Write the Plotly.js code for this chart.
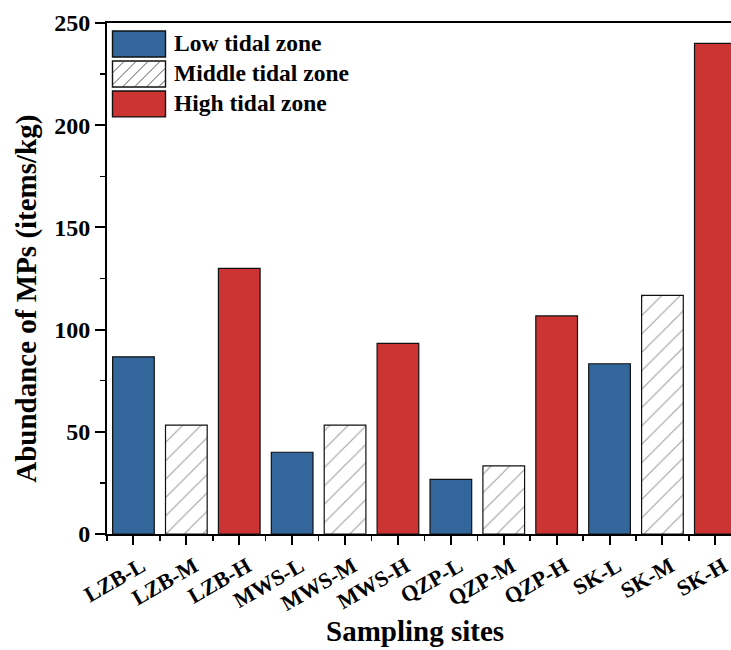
<!DOCTYPE html>
<html>
<head>
<meta charset="utf-8">
<script src="https://cdn.plot.ly/plotly-3.0.1.min.js"></script>
<style>html,body{margin:0;padding:0;background:#fff;}#chart{width:731px;height:650px;}</style>
</head>
<body>
<div id="chart"></div>
<script>
// ---- data ----
const categories = ['LZB-L','LZB-M','LZB-H','MWS-L','MWS-M','MWS-H','QZP-L','QZP-M','QZP-H','SK-L','SK-M','SK-H'];
const lowLabels = ['LZB-L','MWS-L','QZP-L','SK-L'];
const midLabels = ['LZB-M','MWS-M','QZP-M','SK-M'];
const highLabels = ['LZB-H','MWS-H','QZP-H','SK-H'];
const lowValues = [86.7, 40, 26.7, 83.3];
const midValues = [53.3, 53.3, 33.3, 116.7];
const highValues = [130, 93.3, 106.7, 240];
const seriesNames = ['Low tidal zone','Middle tidal zone','High tidal zone'];
const xTitle = 'Sampling sites';
const yTitle = 'Abundance of MPs (items/kg)';

// ---- styling ----
const FONT = 'Liberation Serif, Times New Roman, serif';
const BLUE = '#33669A';
const RED = '#CC3333';
const pos = lbl => categories.indexOf(lbl);
const BARW = 0.788;

const traces = [
  {type:'bar', name:seriesNames[0], x:lowLabels.map(pos), y:lowValues, width:BARW,
   marker:{color:BLUE, line:{color:'#111', width:1.2}}, showlegend:false},
  {type:'bar', name:seriesNames[1], x:midLabels.map(pos), y:midValues, width:BARW,
   marker:{color:'white', line:{color:'#111', width:1.2},
     pattern:{shape:'/', fgcolor:'#444', bgcolor:'white', size:13, solidity:0.09, fillmode:'overlay'}}, showlegend:false},
  {type:'bar', name:seriesNames[2], x:highLabels.map(pos), y:highValues, width:BARW,
   marker:{color:RED, line:{color:'#111', width:1.2}}, showlegend:false}
];

// plot area in pixels
const L = 107, R = 731, T = 23, B = 534.5;
const px = x => (x - L) / (R - L);
const py = y => (B - y) / (B - T);

// custom legend
const shapes = [];
const annotations = [];
const boxX0 = 112.5, boxX1 = 165.5, boxH = 26, tops = [31, 61, 91];
const fills = [BLUE, 'white', RED];
tops.forEach((t, i) => {
  shapes.push({type:'rect', xref:'paper', yref:'paper', x0:px(boxX0), x1:px(boxX1), y0:py(t+boxH), y1:py(t),
    fillcolor:fills[i], line:{color:'#111', width:1.4}, layer:'above'});
  annotations.push({xref:'paper', yref:'paper', x:px(172), y:py(t + boxH/2 - 0.5), xanchor:'left', yanchor:'middle',
    text:seriesNames[i], showarrow:false, font:{family:FONT, size:23.5, color:'#000', weight:'bold'}});
});
// hatch lines for middle legend box
(function(){
  const t = tops[1], b = t + boxH, sp = 12;
  for (let s = boxX0 - boxH; s < boxX1; s += sp) {
    let xa = s, ya = b, xb = s + boxH, yb = t;
    if (xa < boxX0) { ya = b - (boxX0 - xa); xa = boxX0; }
    if (xb > boxX1) { yb = t + (xb - boxX1); xb = boxX1; }
    if (xb - xa < 1) continue;
    shapes.push({type:'line', xref:'paper', yref:'paper', x0:px(xa), y0:py(ya), x1:px(xb), y1:py(yb),
      line:{color:'#444', width:0.9}, layer:'above'});
  }
})();
// axis titles
annotations.push({xref:'paper', yref:'paper', x:px(27), y:py(299), xanchor:'center', yanchor:'middle', textangle:-90,
  text:yTitle, showarrow:false, font:{family:FONT, size:29, color:'#000', weight:'bold'}});
annotations.push({xref:'paper', yref:'paper', x:px(415), y:py(632), xanchor:'center', yanchor:'middle',
  text:xTitle, showarrow:false, font:{family:FONT, size:29, color:'#000', weight:'bold'}});

const layout = {
  width:731, height:650,
  margin:{l:L, r:0, t:T, b:650-B, pad:0},
  paper_bgcolor:'white', plot_bgcolor:'white',
  barmode:'overlay',
  showlegend:false,
  font:{family:FONT, color:'#000'},
  xaxis:{
    type:'linear', range:[-0.5, -0.5 + (R-L)/52.9],
    tickmode:'array', tickvals:categories.map((c,i)=>i), ticktext:categories,
    tickangle:-30, ticks:'outside', ticklen:9, tickwidth:2, tickcolor:'#000',
    ticklabelshift:8, ticklabelstandoff:0, ticklabeloverflow:'allow',
    minor:{tickmode:'linear', tick0:0.5, dtick:1, ticks:'outside', ticklen:5, tickwidth:1.5, tickcolor:'#000'},
    tickfont:{family:FONT, size:22, color:'#000', weight:'bold'},
    showline:true, linewidth:2, linecolor:'#000', mirror:true,
    showgrid:false, zeroline:false
  },
  yaxis:{
    range:[0,250], tickmode:'linear', tick0:0, dtick:50,
    ticks:'outside', ticklen:10, tickwidth:2, tickcolor:'#000',
    minor:{tickmode:'linear', tick0:25, dtick:50, ticks:'outside', ticklen:5, tickwidth:1.5, tickcolor:'#000'},
    tickfont:{family:FONT, size:24, color:'#000', weight:'bold'},
    showline:true, linewidth:2, linecolor:'#000', mirror:false,
    showgrid:false, zeroline:false
  },
  shapes:shapes,
  annotations:annotations
};

Plotly.newPlot('chart', traces, layout, {displayModeBar:false, staticPlot:true});
</script>
</body>
</html>
